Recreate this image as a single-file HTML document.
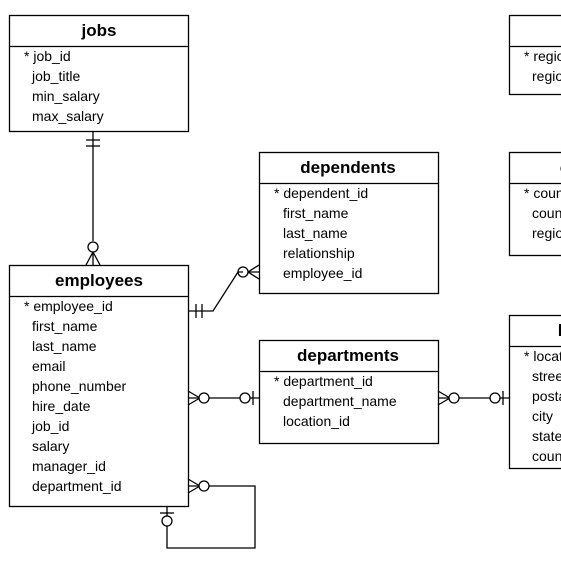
<!DOCTYPE html>
<html><head><style>html,body{margin:0;padding:0;background:#fff}svg{display:block}</style></head>
<body>
<svg width="561" height="561" viewBox="0 0 561 561" xmlns="http://www.w3.org/2000/svg" font-family="Liberation Sans, Arial, sans-serif" font-size="14">
<g fill="#fff" stroke="#000" stroke-width="1.3">
<rect x="9.5" y="15.5" width="179" height="116"/><line x1="9.5" y1="46.5" x2="188.5" y2="46.5"/>
<rect x="259.5" y="152.5" width="179" height="141"/><line x1="259.5" y1="183.5" x2="438.5" y2="183.5"/>
<rect x="9.5" y="265.5" width="179" height="241"/><line x1="9.5" y1="296.5" x2="188.5" y2="296.5"/>
<rect x="259.5" y="340.5" width="179" height="103"/><line x1="259.5" y1="371.5" x2="438.5" y2="371.5"/>
<rect x="509.5" y="15.5" width="179" height="79"/><line x1="509.5" y1="46.5" x2="688.5" y2="46.5"/>
<rect x="509.5" y="152.5" width="179" height="103"/><line x1="509.5" y1="183.5" x2="688.5" y2="183.5"/>
<rect x="509.5" y="315.5" width="179" height="153"/><line x1="509.5" y1="346.5" x2="688.5" y2="346.5"/>
</g>
<g font-weight="bold" font-size="17" text-anchor="middle">
<text x="99" y="36">jobs</text><text x="348" y="173">dependents</text><text x="99" y="286">employees</text>
<text x="348" y="361">departments</text><text x="598" y="36">regions</text><text x="598" y="173">countries</text><text x="595" y="336">locations</text>
</g>
<g>
<text x="24" y="61">* job_id</text><text x="32" y="81">job_title</text><text x="32" y="101">min_salary</text><text x="32" y="121">max_salary</text>
<text x="274" y="198">* dependent_id</text><text x="283" y="218">first_name</text><text x="283" y="238">last_name</text><text x="283" y="258">relationship</text><text x="283" y="278">employee_id</text>
<text x="24" y="311">* employee_id</text><text x="32" y="331">first_name</text><text x="32" y="351">last_name</text><text x="32" y="371">email</text><text x="32" y="391">phone_number</text><text x="32" y="411">hire_date</text><text x="32" y="431">job_id</text><text x="32" y="451">salary</text><text x="32" y="471">manager_id</text><text x="32" y="491">department_id</text>
<text x="274" y="386">* department_id</text><text x="283" y="406">department_name</text><text x="283" y="426">location_id</text>
<text x="524" y="61">* region_id</text><text x="532" y="81">region_name</text>
<text x="524" y="198">* country_id</text><text x="532" y="218">country_name</text><text x="532" y="238">region_id</text>
<text x="524" y="361">* location_id</text><text x="532" y="381">street_address</text><text x="532" y="401">postal_code</text><text x="532" y="421">city</text><text x="532" y="441">state_province</text><text x="532" y="461">country_id</text>
</g>
<g fill="none" stroke="#000" stroke-width="1.3">
<line x1="93" y1="131" x2="93" y2="241"/><line x1="86" y1="140" x2="100" y2="140"/><line x1="86" y1="146" x2="100" y2="146"/>
<circle cx="93" cy="247" r="5"/><path d="M93 252V265M93 252L86 265M93 252L100 265"/>
<path d="M188 311H213L238 272H243"/><line x1="196" y1="304" x2="196" y2="318"/><line x1="202" y1="304" x2="202" y2="318"/>
<circle cx="243" cy="272" r="5"/><path d="M248 272H259M248 272L259 265M248 272L259 279"/>
<line x1="188" y1="398" x2="259" y2="398"/><path d="M200 398L188 391M200 398L188 405"/><circle cx="204" cy="398" r="5" fill="#fff"/>
<circle cx="245" cy="398" r="5" fill="#fff"/><line x1="253" y1="391" x2="253" y2="405"/>
<line x1="438" y1="398" x2="509" y2="398"/><path d="M450 398L438 391M450 398L438 405"/><circle cx="454" cy="398" r="5" fill="#fff"/>
<circle cx="495" cy="398" r="5" fill="#fff"/><line x1="503" y1="391" x2="503" y2="405"/>
<path d="M188 486H255V548H167V506"/><path d="M200 486L188 479M200 486L188 493"/><circle cx="204" cy="486" r="5" fill="#fff"/>
<line x1="160" y1="513" x2="174" y2="513"/><circle cx="167" cy="521" r="5" fill="#fff"/>
</g>
</svg>
</body></html>
